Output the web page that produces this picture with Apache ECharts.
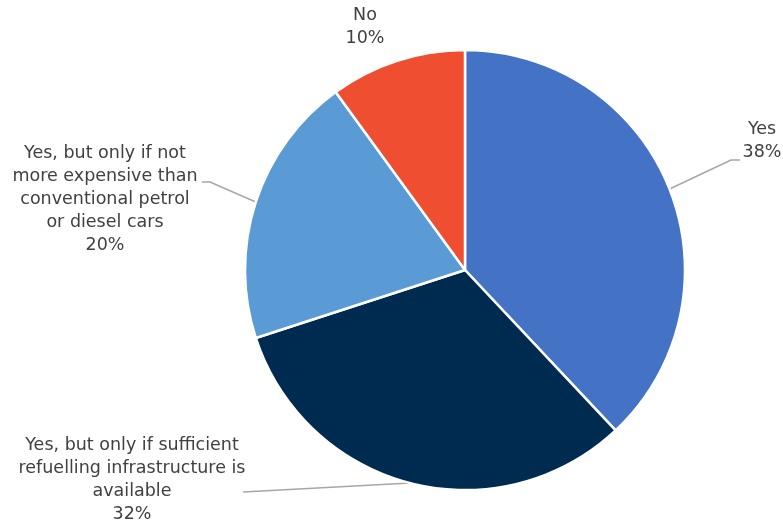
<!DOCTYPE html>
<html>
<head>
<meta charset="utf-8">
<script src="https://cdn.jsdelivr.net/npm/echarts@6/dist/echarts.min.js"></script>
<style>
  html, body { margin: 0; padding: 0; background: #ffffff; }
  #chart { width: 783px; height: 526px; }
</style>
</head>
<body>
<div id="chart"></div>
<script>
// Survey answers and their shares (%)
const categories = [
  'Yes',
  'Yes, but only if sufficient refuelling infrastructure is available',
  'Yes, but only if not more expensive than conventional petrol or diesel cars',
  'No'
];
const shares = [38, 32, 20, 10];
// Wrapped label lines for each answer
const labelLines = [
  ['Yes'],
  ['Yes, but only if sufficient', 'refuelling infrastructure is', 'available'],
  ['Yes, but only if not', 'more expensive than', 'conventional petrol', 'or diesel cars'],
  ['No']
];
const sliceColors = ['#4472C4', '#002B51', '#5B9BD5', '#F04E31'];

// Label anchor and leader-line elbow placement per slice
const labelPlacement = [
  { x: 762, y: 141, align: 'center', elbow: [[731, 160], [740, 160]] },
  { x: 132, y: 480, align: 'center', elbow: [[243, 492]] },
  { x: 105, y: 199, align: 'center', elbow: [[210, 182], [202, 182]] },
  { x: 365, y: 27, align: 'center', elbow: null }
];

const chart = echarts.init(document.getElementById('chart'), null, { renderer: 'canvas' });

chart.setOption({
  animation: false,
  backgroundColor: '#ffffff',
  series: [{
    type: 'pie',
    center: [465, 270],
    radius: 220,
    startAngle: 90,
    clockwise: true,
    data: categories.map((name, i) => ({
      name: name,
      value: shares[i],
      itemStyle: { color: sliceColors[i] }
    })),
    itemStyle: { borderColor: '#ffffff', borderWidth: 2.5 },
    label: {
      show: true,
      color: '#404040',
      fontFamily: 'DejaVu Sans',
      fontSize: 17.5,
      lineHeight: 23,
      align: 'center',
      formatter: p => labelLines[p.dataIndex].concat([p.value + '%']).join('\n')
    },
    labelLine: {
      show: true,
      lineStyle: { color: '#A6A6A6', width: 1.5 }
    },
    labelLayout: function (params) {
      const pl = labelPlacement[params.dataIndex];
      const out = {
        x: pl.x,
        y: pl.y,
        align: pl.align,
        verticalAlign: 'middle'
      };
      const start = params.labelLinePoints && params.labelLinePoints[0];
      if (pl.elbow && start) {
        out.labelLinePoints = [start].concat(pl.elbow.length === 1 ? [pl.elbow[0], pl.elbow[0]] : pl.elbow);
      } else {
        out.labelLinePoints = start ? [start, start, start] : undefined;
      }
      return out;
    }
  }]
});
</script>
</body>
</html>
